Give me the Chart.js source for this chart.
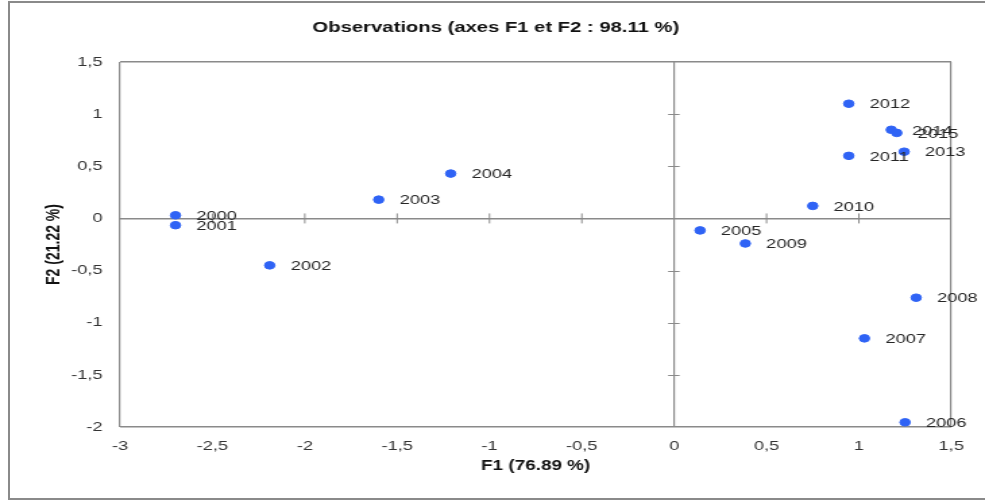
<!DOCTYPE html>
<html lang="fr">
<head>
    <meta charset="UTF-8">
    <title>Observations (axes F1 et F2 : 98.11 %)</title>
    <style>
        body {
            margin: 0;
            background: #fff;
        }

        #wrap {
            position: relative;
            width: 985px;
            height: 503px;
            overflow: hidden;
        }

        /* l'image d'origine est étirée horizontalement */
        #stretch {
            position: absolute;
            left: 0;
            top: 0;
            width: 730px;
            height: 503px;
            transform: scaleX(1.3493);
            transform-origin: 0 0;
        }

        #frame {
            position: absolute;
            left: 8px;
            top: 1px;
            width: 977px;
            height: 499px;
            border-left: 2px solid #8a8a8a;
            border-top: 2px solid #8a8a8a;
            border-bottom: 2px solid #8a8a8a;
            box-sizing: border-box;
            pointer-events: none;
        }
    </style>
</head>
<body>
    <div id="wrap">
        <div id="stretch">
            <canvas id="chart" width="730" height="503"></canvas>
        </div>
        <div id="frame"></div>
    </div>
    <script src="https://cdn.jsdelivr.net/npm/chart.js"></script>
    <script>
        // années (observations)
        const years = ['2000', '2001', '2002', '2003', '2004', '2005', '2006', '2007',
                       '2008', '2009', '2010', '2011', '2012', '2013', '2014', '2015'];
        // coordonnées sur F1
        const f1 = [-2.70, -2.70, -2.19, -1.60, -1.21, 0.14, 1.25, 1.03,
                    1.31, 0.385, 0.75, 0.945, 0.945, 1.245, 1.175, 1.205];
        // coordonnées sur F2
        const f2 = [0.03, -0.065, -0.45, 0.18, 0.43, -0.115, -1.955, -1.15,
                    -0.76, -0.24, 0.12, 0.60, 1.10, 0.64, 0.85, 0.82];

        const xTicks = [-3, -2.5, -2, -1.5, -1, -0.5, 0, 0.5, 1, 1.5];
        const yTicks = [-2, -1.5, -1, -0.5, 0, 0.5, 1, 1.5];

        const lineColor = '#8a8a8a';
        const fontFamily = "'Liberation Sans', Arial, sans-serif";
        const narrowFamily = "'Liberation Sans Narrow', 'Liberation Sans', Arial, sans-serif";

        const fmt = v => String(v).replace('.', ',');

        // lignes du cadre + axes zéro
        function gridColor(c, ticks) {
            const v = c.tick.value;
            if (v === 0 || v === ticks[0] || v === ticks[ticks.length - 1]) return lineColor;
            return 'rgba(0,0,0,0)';
        }

        // petites graduations sur les axes zéro + étiquettes des points
        const extras = {
            id: 'extras',
            beforeDatasetsDraw(chart) {
                const ctx = chart.ctx;
                const xs = chart.scales.x;
                const ys = chart.scales.y;
                const x0 = xs.getPixelForValue(0);
                const y0 = ys.getPixelForValue(0);
                ctx.save();
                ctx.strokeStyle = lineColor;
                ctx.lineWidth = 1;
                ctx.beginPath();
                xTicks.forEach(t => {
                    if (t === 0 || t === xTicks[0] || t === xTicks[xTicks.length - 1]) return;
                    const px = xs.getPixelForValue(t);
                    ctx.moveTo(px, y0 - 5);
                    ctx.lineTo(px, y0 + 5);
                });
                yTicks.forEach(t => {
                    if (t === 0 || t === yTicks[0] || t === yTicks[yTicks.length - 1]) return;
                    const py = Math.round(ys.getPixelForValue(t)) + 0.5;
                    ctx.moveTo(x0 - 4.5, py);
                    ctx.lineTo(x0 + 4, py);
                });
                ctx.stroke();
                ctx.restore();
            },
            afterDatasetsDraw(chart) {
                const ctx = chart.ctx;
                const meta = chart.getDatasetMeta(0);
                ctx.save();
                ctx.fillStyle = '#262626';
                ctx.font = '13.5px ' + narrowFamily;
                ctx.textBaseline = 'middle';
                meta.data.forEach((pt, i) => {
                    ctx.fillText(years[i], pt.x + 15.5, pt.y + 1);
                });
                ctx.restore();
            }
        };

        new Chart(document.getElementById('chart'), {
            type: 'scatter',
            data: {
                datasets: [{
                    label: 'Observations',
                    data: f1.map((v, i) => ({ x: v, y: f2[i] })),
                    backgroundColor: '#2f63f5',
                    borderColor: '#2f63f5',
                    pointRadius: 3.8,
                    pointHoverRadius: 3.8
                }]
            },
            options: {
                responsive: false,
                animation: false,
                layout: {
                    padding: { left: 30, right: 25, top: 0, bottom: 20 }
                },
                plugins: {
                    legend: { display: false },
                    tooltip: { enabled: false },
                    title: {
                        display: true,
                        text: 'Observations (axes F1 et F2 : 98.11 %)',
                        color: '#111',
                        font: { family: fontFamily, size: 15, weight: 'bold' },
                        padding: { top: 19, bottom: 25 }
                    }
                },
                scales: {
                    x: {
                        type: 'linear',
                        min: -3,
                        max: 1.5,
                        afterFit: s => { s.height = 56; },
                        afterBuildTicks: s => { s.ticks = xTicks.map(v => ({ value: v })); },
                        border: { display: false },
                        grid: {
                            drawTicks: false,
                            color: c => gridColor(c, xTicks),
                            lineWidth: 1.2
                        },
                        ticks: {
                            padding: 11,
                            color: '#333',
                            font: { family: narrowFamily, size: 13.5 },
                            callback: fmt
                        },
                        title: {
                            display: true,
                            text: 'F1 (76.89 %)',
                            color: '#111',
                            font: { family: fontFamily, size: 14, weight: 'bold' },
                            padding: { top: 0, bottom: 8 }
                        }
                    },
                    y: {
                        type: 'linear',
                        min: -2,
                        max: 1.5,
                        afterFit: s => { s.width = 59; },
                        afterBuildTicks: s => { s.ticks = yTicks.map(v => ({ value: v })); },
                        border: { display: false },
                        grid: {
                            drawTicks: false,
                            color: c => gridColor(c, yTicks),
                            lineWidth: 1.5
                        },
                        ticks: {
                            padding: 13,
                            color: '#333',
                            font: { family: narrowFamily, size: 13.5 },
                            callback: fmt
                        },
                        title: {
                            display: true,
                            text: 'F2 (21.22 %)',
                            color: '#111',
                            font: { family: fontFamily, size: 14, weight: 'bold' },
                            padding: { top: 2, bottom: 0 }
                        }
                    }
                }
            },
            plugins: [extras]
        });
    </script>
</body>
</html>
